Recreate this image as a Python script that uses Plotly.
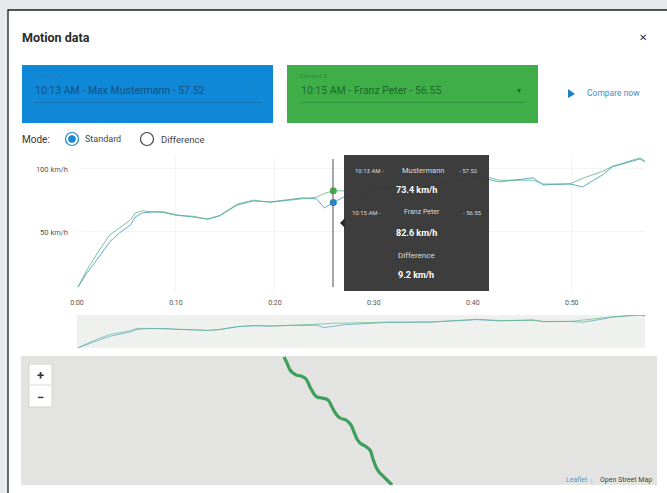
import plotly.graph_objects as go

# ---- data ----
time_s = [0.1, 1.0, 2.0, 3.3, 4.3, 5.4, 5.9, 6.6, 7.7, 8.7, 10.1, 11.7, 13.2, 14.4, 16.2, 17.8, 19.5,
          21.2, 22.8, 24.2, 25.0, 25.9, 27.0, 31.3, 35.7, 40.4, 41.7, 42.7, 46.1, 47.1, 49.8, 51.1,
          53.1, 54.1, 56.9, 57.4]
speed_a = [6.3, 17.5, 27.8, 42.0, 49.2, 55.6, 61.9, 65.0, 65.9, 65.9, 63.5, 61.9, 60.3, 62.7, 71.4, 74.6, 73.8,
           75.4, 77.0, 76.2, 69.0, 73.4, 77.8, 84.9, 85.7, 93.7, 91.3, 89.7, 92.9, 87.3, 88.1, 85.7,
           95.2, 101.6, 107.9, 105.6]
speed_b = [6.3, 19.8, 32.5, 47.6, 53.2, 59.5, 65.0, 66.7, 65.9, 65.5, 63.0, 62.5, 60.0, 63.0, 72.0, 75.2, 73.5,
           75.0, 76.5, 77.5, 80.5, 82.6, 82.6, 86.0, 86.5, 94.5, 93.0, 91.0, 91.0, 88.0, 88.0, 92.5,
           98.0, 102.0, 108.7, 106.0]
cursor_time = 25.9
cursor_a = 73.4
cursor_b = 82.6
x_tick_vals = [0, 10, 20, 30, 40, 50]
x_tick_text = ["0:00", "0:10", "0:20", "0:30", "0:40", "0:50"]
y_tick_vals = [50, 100]
y_tick_text = ["50 km/h", "100 km/h"]
route_x = [284, 287, 290, 293, 296, 301, 306, 310, 314, 317, 322, 328, 332, 336, 340, 346, 351, 354, 357, 360,
           365, 370, 373, 376, 379, 385, 392]
route_y = [357, 363, 370, 373, 375, 376, 379, 387, 394, 397, 398, 400, 407, 414, 418, 420, 425, 432, 439, 443,
           446, 450, 459, 467, 472, 478, 485]

W, H = 667, 493
BLUE, GREEN = "#0f88d8", "#3fae49"
FONT = "Roboto"


def px(x):
    return x / W


def py(y):
    return 1 - y / H


fig = go.Figure()
LINE_A = "rgba(60,150,190,0.8)"
LINE_B = "rgba(90,180,130,0.8)"

for s, c in ((speed_a, LINE_A), (speed_b, LINE_B)):
    fig.add_trace(go.Scatter(x=time_s, y=s, mode="lines", line=dict(color=c, width=1), xaxis="x", yaxis="y",
                             hoverinfo="skip"))
    fig.add_trace(go.Scatter(x=time_s, y=s, mode="lines", line=dict(color=c, width=0.8), xaxis="x2", yaxis="y2",
                             hoverinfo="skip"))
fig.add_trace(go.Scatter(x=[cursor_time], y=[cursor_a], mode="markers", marker=dict(color=BLUE, size=7),
                         xaxis="x", yaxis="y", hoverinfo="skip"))
fig.add_trace(go.Scatter(x=[cursor_time], y=[cursor_b], mode="markers", marker=dict(color=GREEN, size=7),
                         xaxis="x", yaxis="y", hoverinfo="skip"))
fig.add_trace(go.Scatter(x=route_x, y=route_y, mode="lines", line=dict(color="#3f9e5c", width=3.2, shape="spline"),
                         xaxis="x3", yaxis="y3", hoverinfo="skip"))


def rect(x0, y0, x1, y1, fill, line=None, layer="below", lw=1):
    return dict(type="rect", xref="paper", yref="paper", x0=px(x0), x1=px(x1), y0=py(y0), y1=py(y1),
                fillcolor=fill, line=dict(color=line or fill, width=lw if line else 0), layer=layer)


def circle(cx, cy, r, fill, line, lw=1.2):
    return dict(type="circle", xref="paper", yref="paper", x0=px(cx - r), x1=px(cx + r), y0=py(cy - r), y1=py(cy + r),
                fillcolor=fill, line=dict(color=line, width=lw), layer="above")


shapes = [
    rect(0, 0, 667, 493, "#e8e9ea"),
    rect(8, 10, 680, 505, "#ffffff", "#1c1c1c", lw=1.3),
    rect(22, 65, 273, 123, BLUE),
    rect(287, 65, 538, 123, GREEN),
    rect(34, 102, 262, 103, "#1573b0"),
    rect(300, 102, 526, 103, "#34913d"),
    rect(77, 315, 645, 348, "#eff1ef"),
    rect(21, 356, 657, 485, "#e3e4e1"),
    rect(29, 364, 52, 407, "#ffffff", "#d4d4d4", lw=1),
    dict(type="line", xref="paper", yref="paper", x0=px(30), x1=px(51), y0=py(385), y1=py(385),
         line=dict(color="#d8d8d8", width=1), layer="above"),
    dict(type="line", xref="paper", yref="paper", x0=px(333), x1=px(333), y0=py(159), y1=py(287),
         line=dict(color="#777777", width=1.3), layer="above"),
    rect(344, 155, 489, 291, "rgba(55,55,55,0.97)", layer="above"),
    dict(type="path", xref="paper", yref="paper",
         path=f"M {px(340)} {py(223)} L {px(345)} {py(218)} L {px(345)} {py(228)} Z",
         fillcolor="#2a2a2a", line=dict(width=0), layer="above"),
    circle(72, 139, 6.5, "#ffffff", "#1587d4"),
    circle(72, 139, 3.2, "#1587d4", "#1587d4"),
    circle(147, 139, 6.5, "#ffffff", "#444444"),
    dict(type="path", xref="paper", yref="paper",
         path=f"M {px(568)} {py(89)} L {px(575)} {py(94)} L {px(568)} {py(98)} Z",
         fillcolor="#1f7fc4", line=dict(width=0), layer="above"),
]


def text(x, y, s, size=8, color="#333333", anchor="left", bold=False):
    return dict(xref="paper", yref="paper", x=px(x), y=py(y), text=f"<b>{s}</b>" if bold else s, showarrow=False,
                xanchor=anchor, yanchor="middle", font=dict(family=FONT, size=size, color=color))


annotations = [
    text(20, 38, "Motion data", 12.5, "#2b2b2b", bold=True),
    text(643, 38, "✕", 10, "#333333", "center"),
    text(33, 76, "Element A", 6, "#2d7db5"),
    text(33, 91, "10:13 AM - Max Mustermann - 57.52", 10.5, "#134f80"),
    text(253, 91, "▾", 7, "#2d7db5", "center"),
    text(298, 76, "Element B", 6, "#2f8f3c"),
    text(299, 91, "10:15 AM - Franz Peter - 56.55", 10.5, "#1c6a28"),
    text(519, 91, "▾", 8, "#1c6a28", "center"),
    text(585, 93, "Compare now", 8.5, "#3f8fc8"),
    text(20, 139, "Mode:", 10, "#333333"),
    text(83, 139, "Standard", 9, "#444444"),
    text(159, 139, "Difference", 9.5, "#444444"),
    text(40, 375, "+", 13, "#333333", "center", bold=True),
    text(40, 397, "−", 13, "#333333", "center", bold=True),
    text(564, 480, "Leaflet", 7, "#5c9ac8"),
    text(591, 480, "|", 6, "#aaaaaa", "center"),
    text(654, 480, "Open Street Map", 7, "#444444", "right"),
    text(353, 170, "10:13 AM -", 6, "#dddddd"),
    text(423, 170, "Mustermann", 7.5, "#dddddd", "center"),
    text(480, 170, "- 57.52", 6, "#dddddd", "right"),
    text(416, 190, "73.4 km/h", 9, "#ffffff", "center", bold=True),
    text(350, 212, "10:15 AM -", 6, "#dddddd"),
    text(422, 212, "Franz Peter", 7, "#dddddd", "center"),
    text(484, 212, "- 56.55", 6, "#dddddd", "right"),
    text(416, 233, "82.6 km/h", 9, "#ffffff", "center", bold=True),
    text(416, 255, "Difference", 8, "#dddddd", "center"),
    text(416, 275, "9.2 km/h", 9, "#ffffff", "center", bold=True),
]

x_range = [0, 57.4]
fig.update_layout(
    width=W, height=H, autosize=False, margin=dict(l=0, r=0, t=0, b=0, pad=0), showlegend=False,
    paper_bgcolor="#ffffff", plot_bgcolor="rgba(0,0,0,0)", shapes=shapes, annotations=annotations,
    font=dict(family=FONT),
    xaxis=dict(domain=[px(77), px(645)], range=x_range, tickvals=x_tick_vals, ticktext=x_tick_text,
               showgrid=True, gridcolor="#f3f4f3", zeroline=False, showline=False, ticks="", automargin=False,
               ticklabelstandoff=5, tickfont=dict(size=7, color="#555555"), anchor="y", fixedrange=True),
    yaxis=dict(domain=[py(292), py(155)], range=[2.4, 111], tickvals=y_tick_vals, ticktext=y_tick_text,
               showgrid=True, gridcolor="#f3f4f3", zeroline=False, showline=False, ticks="", automargin=False,
               ticklabelstandoff=8, tickfont=dict(size=7.5, color="#555555"), anchor="x", fixedrange=True),
    xaxis2=dict(domain=[px(77), px(645)], range=x_range, visible=False, anchor="y2", fixedrange=True, automargin=False),
    yaxis2=dict(domain=[py(348), py(315)], range=[5.6, 108], visible=False, anchor="x2", fixedrange=True, automargin=False),
    xaxis3=dict(domain=[px(21), px(657)], range=[21, 657], visible=False, anchor="y3", fixedrange=True, automargin=False),
    yaxis3=dict(domain=[py(485), py(356)], range=[485, 356], visible=False, anchor="x3", fixedrange=True, automargin=False),
)

fig.write_html("out.html", config=dict(displayModeBar=False),
               post_script="document.body.style.margin='0';document.body.style.overflow='hidden';")
